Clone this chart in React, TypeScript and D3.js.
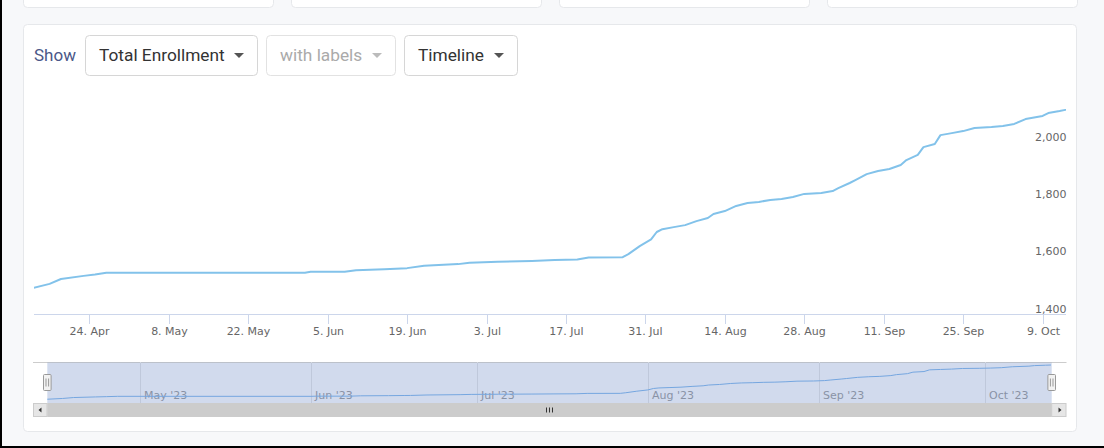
import React from "react";
import * as d3 from "d3";

// ---- Data ----
const dates = [
  "2023-04-14", "2023-04-17", "2023-04-19", "2023-04-23", "2023-04-25", "2023-04-27",
  "2023-06-01", "2023-06-02", "2023-06-08", "2023-06-10", "2023-06-15", "2023-06-18",
  "2023-06-19", "2023-06-22", "2023-06-28", "2023-06-30", "2023-07-05", "2023-07-11",
  "2023-07-15", "2023-07-19", "2023-07-21", "2023-07-27", "2023-07-28", "2023-07-30",
  "2023-08-01", "2023-08-02", "2023-08-03", "2023-08-05", "2023-08-07", "2023-08-09",
  "2023-08-11", "2023-08-12", "2023-08-14", "2023-08-16", "2023-08-18", "2023-08-20",
  "2023-08-22", "2023-08-24", "2023-08-26", "2023-08-28", "2023-08-31", "2023-09-02",
  "2023-09-03", "2023-09-05", "2023-09-06", "2023-09-08", "2023-09-10", "2023-09-12",
  "2023-09-14", "2023-09-15", "2023-09-17", "2023-09-18", "2023-09-20", "2023-09-21",
  "2023-09-23", "2023-09-25", "2023-09-27", "2023-09-30", "2023-10-02", "2023-10-04",
  "2023-10-06", "2023-10-09", "2023-10-10", "2023-10-12", "2023-10-13",
];
const enrollment = [
  1490, 1505, 1522, 1533, 1538, 1544,
  1544, 1547, 1547, 1553, 1556, 1559,
  1560, 1568, 1574, 1579, 1582, 1585,
  1588, 1590, 1597, 1598, 1609, 1637,
  1660, 1686, 1696, 1703, 1710, 1724,
  1735, 1749, 1759, 1777, 1787, 1791,
  1798, 1801, 1808, 1819, 1822, 1829,
  1839, 1857, 1867, 1888, 1899, 1906,
  1920, 1937, 1955, 1982, 1993, 2024,
  2031, 2038, 2049, 2052, 2056, 2063,
  2080, 2091, 2101, 2108, 2112,
];
const xTickDates = [
  "2023-04-24", "2023-05-08", "2023-05-22", "2023-06-05", "2023-06-19", "2023-07-03",
  "2023-07-17", "2023-07-31", "2023-08-14", "2023-08-28", "2023-09-11", "2023-09-25",
  "2023-10-09",
];
const yTicks = [1400, 1600, 1800, 2000];
const navMonths = ["2023-05-01", "2023-06-01", "2023-07-01", "2023-08-01", "2023-09-01", "2023-10-01"];
const menuLabels = ["Total Enrollment", "with labels", "Timeline"];
const showLabel = "Show";

const parse = d3.utcParse("%Y-%m-%d");
const fmtTick = d3.utcFormat("%-d. %b");
const fmtMonth = d3.utcFormat("%b '%y");
const fmtY = d3.format(",");

const W = 1104;
const H = 448;
const PL = 34;
const PR = 1066;
const AXIS_Y = 314;
const NAV_L = 47.3;
const NAV_R = 1051.7;
const NAV_T = 362;
const NAV_B = 403;
const SB_B = 417;
const AXIS_FONT = "'DejaVu Sans', Verdana, sans-serif";
const UI_FONT = "Roboto, 'Noto Sans', sans-serif";

export default function App() {
  const points = dates.map((d, i) => ({ date: parse(d) as Date, value: enrollment[i] }));
  const domain: [Date, Date] = [new Date(Date.UTC(2023, 3, 14, 6)), new Date(Date.UTC(2023, 9, 13, 3))];

  const x = d3.scaleUtc().domain(domain).range([PL, PR]);
  const y = d3.scaleLinear().domain([1400, 2000]).range([AXIS_Y, 142]);

  const nx = d3.scaleUtc().domain(domain).range([NAV_L, NAV_R]);
  const ny = d3
    .scaleLinear()
    .domain([d3.min(enrollment) as number, d3.max(enrollment) as number])
    .range([399.3, 365]);

  const mainLine = d3
    .line<{ date: Date; value: number }>()
    .x((d) => x(d.date))
    .y((d) => y(d.value));
  const navLine = d3
    .line<{ date: Date; value: number }>()
    .x((d) => nx(d.date))
    .y((d) => ny(d.value));

  const boxes = [
    { x: 85.5, w: 172, color: "#333333", caret: "#555555", stroke: "#d6d6d6" },
    { x: 266.5, w: 129, color: "#aaaaaa", caret: "#bbbbbb", stroke: "#e2e2e2" },
    { x: 404.5, w: 113, color: "#333333", caret: "#555555", stroke: "#d6d6d6" },
  ];

  const handle = (cx: number, key: string) => (
    <g key={key}>
      <rect x={cx - 3.8} y={374.5} width={7.6} height={16} rx={1} fill="#f2f2f2" stroke="#999999" strokeWidth={1} />
      <line x1={cx - 1.3} x2={cx - 1.3} y1={378.5} y2={386.5} stroke="#999999" strokeWidth={1} />
      <line x1={cx + 1.3} x2={cx + 1.3} y1={378.5} y2={386.5} stroke="#999999" strokeWidth={1} />
    </g>
  );

  return (
    <div style={{ position: "fixed", left: 0, top: 0, width: W, height: H }}>
      <svg width={W} height={H} style={{ display: "block" }}>
        <defs>
          <clipPath id="plotClip">
            <rect x={PL} y={60} width={PR - PL} height={AXIS_Y - 60} />
          </clipPath>
          <clipPath id="navClip">
            <rect x={NAV_L} y={NAV_T} width={NAV_R - NAV_L} height={NAV_B - NAV_T} />
          </clipPath>
        </defs>
        <rect x={0} y={0} width={W} height={H} fill="#f7f8fa" />

        {/* top cards (cut off) */}
        {[0, 1, 2, 3].map((i) => (
          <rect key={i} x={23.5 + i * 268} y={-10} width={250} height={17.5} rx={4} fill="#ffffff" stroke="#e6e8eb" />
        ))}

        {/* main card */}
        <rect x={23.5} y={24.5} width={1053} height={407} rx={4} fill="#ffffff" stroke="#e6e8eb" />

        {/* toolbar */}
        <text x={34} y={61} fontFamily={UI_FONT} fontSize={17} fill="#4b5788">
          {showLabel}
        </text>
        {boxes.map((b, i) => {
          const cx = b.x + b.w - 18.5;
          return (
            <g key={i}>
              <rect x={b.x} y={35.5} width={b.w} height={40} rx={4} fill="#ffffff" stroke={b.stroke} />
              <text x={b.x + 13.5} y={61} fontFamily={UI_FONT} fontSize={17.3} fill={b.color}>
                {menuLabels[i]}
              </text>
              <path d={`M${cx - 5},53 L${cx + 5},53 L${cx},58 Z`} fill={b.caret} />
            </g>
          );
        })}

        {/* y-axis labels */}
        {yTicks.map((t) => (
          <text key={t} x={1066.5} y={y(t) - 1.5} textAnchor="end" fontFamily={AXIS_FONT} fontSize={11} fill="#666666">
            {fmtY(t)}
          </text>
        ))}

        {/* x-axis */}
        <line x1={PL} x2={PR} y1={AXIS_Y + 0.5} y2={AXIS_Y + 0.5} stroke="#ccd6eb" strokeWidth={1} />
        {xTickDates.map((s) => {
          const d = parse(s) as Date;
          const px = Math.round(x(d)) + 0.5;
          return (
            <g key={s}>
              <line x1={px} x2={px} y1={AXIS_Y} y2={AXIS_Y + 10} stroke="#ccd6eb" strokeWidth={1} />
              <text x={px} y={334.5} textAnchor="middle" fontFamily={AXIS_FONT} fontSize={11} fill="#666666">
                {fmtTick(d)}
              </text>
            </g>
          );
        })}

        {/* main series */}
        <path
          d={mainLine(points) || ""}
          fill="none"
          stroke="#82c2ea"
          strokeWidth={2}
          strokeLinejoin="round"
          strokeLinecap="round"
          clipPath="url(#plotClip)"
        />

        {/* navigator */}
        <line x1={33} x2={1066.5} y1={NAV_T + 0.5} y2={NAV_T + 0.5} stroke="#cccccc" strokeWidth={1} />
        {navMonths.map((s) => {
          const d = parse(s) as Date;
          const px = Math.round(nx(d)) + 0.5;
          return (
            <g key={s}>
              <line x1={px} x2={px} y1={NAV_T} y2={NAV_B} stroke="#e6e6e6" strokeWidth={1} />
              <text x={px + 3.5} y={398.5} fontFamily={AXIS_FONT} fontSize={11} fill="#999999">
                {fmtMonth(d)}
              </text>
            </g>
          );
        })}
        <path d={navLine(points) || ""} fill="none" stroke="#7cb5ec" strokeWidth={1} clipPath="url(#navClip)" />
        <rect x={NAV_L} y={NAV_T + 0.5} width={NAV_R - NAV_L} height={NAV_B - NAV_T - 0.5} fill="rgba(102,133,194,0.3)" />
        {handle(NAV_L, "hl")}
        {handle(NAV_R, "hr")}

        {/* scrollbar */}
        <rect x={33.5} y={NAV_B} width={PR - 33.5} height={SB_B - NAV_B} fill="#f2f2f2" />
        <rect x={NAV_L} y={NAV_B} width={NAV_R - NAV_L} height={SB_B - NAV_B} fill="#cccccc" />
        {[549.5 - 3, 549.5, 549.5 + 3].map((rx, i) => (
          <line key={i} x1={rx} x2={rx} y1={407.5} y2={412.5} stroke="#333333" strokeWidth={1} />
        ))}
        <rect x={33.5} y={NAV_B + 0.5} width={13.5} height={SB_B - NAV_B - 1} fill="#e6e6e6" stroke="#cccccc" />
        <path d={`M41.5,407.5 L41.5,412.5 L38.5,410 Z`} fill="#333333" />
        <rect x={NAV_R} y={NAV_B + 0.5} width={PR - NAV_R} height={SB_B - NAV_B - 1} fill="#e6e6e6" stroke="#cccccc" />
        <path d={`M1058.5,407.5 L1058.5,412.5 L1061.5,410 Z`} fill="#333333" />

        {/* screenshot frame */}
        <rect x={0} y={0} width={2} height={H} fill="#000000" />
        <rect x={0} y={H - 2} width={W} height={2} fill="#000000" />
      </svg>
    </div>
  );
}
